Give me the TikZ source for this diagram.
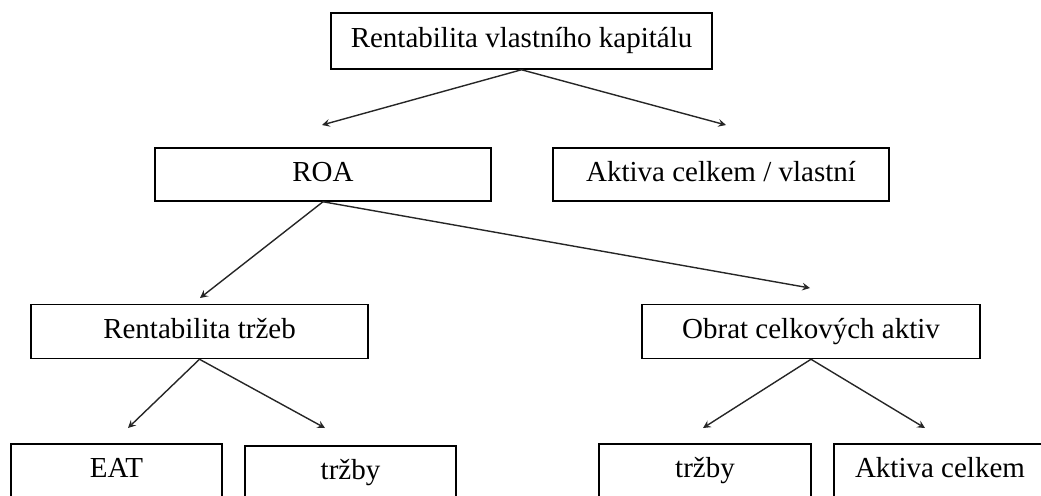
\documentclass[tikz,border=0pt]{standalone}
\usepackage{fontspec}
\setmainfont{Liberation Serif}
\usetikzlibrary{arrows}

\begin{document}
\begin{tikzpicture}[x=0.5pt, y=-0.5pt,
				kasten/.style={draw, line width=0.75pt, inner sep=0pt, minimum height=27pt, text height=1.9ex, text depth=0.4ex, font=\fontsize{14.5}{16}\selectfont},
				pfeil/.style={->, line width=0.7pt, draw=black!85},
				>=stealth]   %Pfeilspitzen
				%Bildbereich
				\useasboundingbox (0,0) rectangle (1041,495);
				\clip (0,0) rectangle (1041,495);
				%Kästen zeichnen
				\node[kasten, minimum width=190.5pt, minimum height=28pt] (rvk) at (521.5,41) {Rentabilita vlastního kapitálu};
				\node[kasten, minimum width=168pt, minimum height=26.5pt] (roa) at (323,174.5) {ROA};
				\node[kasten, minimum width=168pt, minimum height=26.5pt] (akv) at (721,174.5) {Aktiva celkem / vlastní};
				\node[kasten, minimum width=168.5pt] (rt) at (199.5,331.5) {Rentabilita tržeb};
				\node[kasten, minimum width=169pt] (oca) at (811,331.5) {Obrat celkových aktiv};
				\node[kasten, minimum width=105.5pt] (eat) at (116.5,471) {EAT};
				\node[kasten, minimum width=105.5pt] (trl) at (350.5,473) {tržby};
				\node[kasten, minimum width=106pt] (trr) at (705,471) {tržby};
				\node[kasten, minimum width=106pt] (ac) at (940,471) {Aktiva celkem};
				%Pfeilenden
				\coordinate (z1) at (322,125);
				\coordinate (z2) at (726,125);
				\coordinate (z3) at (200,298);
				\coordinate (z4) at (810,288);
				\coordinate (z5) at (128,428);
				\coordinate (z6) at (325,428);
				\coordinate (z7) at (703,428);
				\coordinate (z8) at (925,428);
				%Pfeile zeichnen
				\draw[pfeil] (rvk.south) -- (z1);
				\draw[pfeil] (rvk.south) -- (z2);
				\draw[pfeil] (roa.south) -- (z3);
				\draw[pfeil] (roa.south) -- (z4);
				\draw[pfeil] (rt.south) -- (z5);
				\draw[pfeil] (rt.south) -- (z6);
				\draw[pfeil] (oca.south) -- (z7);
				\draw[pfeil] (oca.south) -- (z8);
			\end{tikzpicture}
\end{document}
